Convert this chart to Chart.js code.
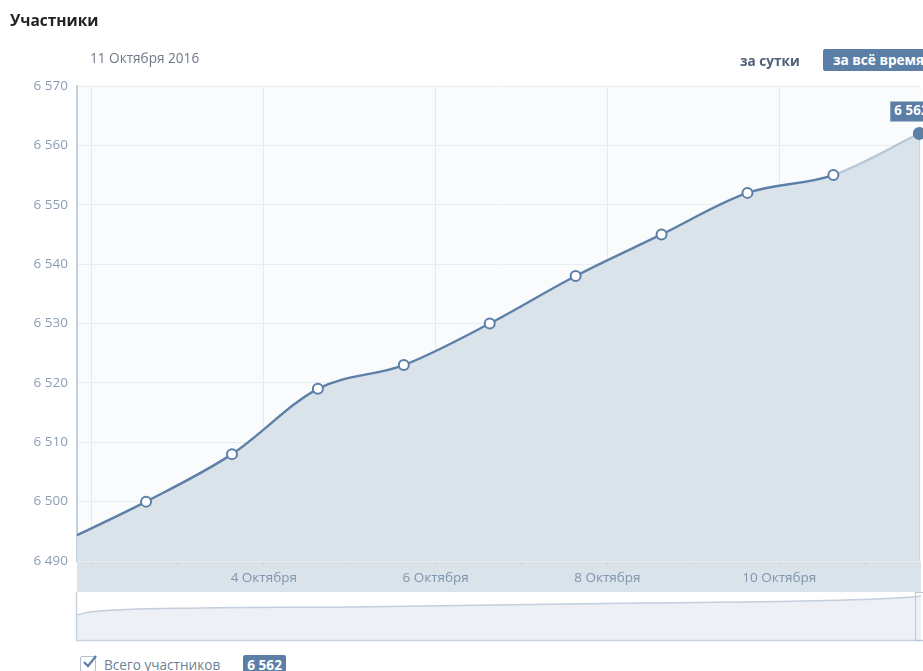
<!DOCTYPE html>
<html>
<head>
<meta charset="utf-8">
<script src="https://cdn.jsdelivr.net/npm/chart.js@4.4.0/dist/chart.umd.min.js"></script>
<style>
  body { margin: 0; background: #fff; font-family: "Open Sans", sans-serif; overflow: hidden; }
  #wrap { position: relative; width: 923px; height: 671px; overflow: hidden; }
  .abs { position: absolute; white-space: nowrap; }
  #title { left: 10px; top: 9px; font-size: 15.5px; font-weight: bold; color: #222; }
  #date { left: 90px; top: 48px; font-size: 13.6px; color: #6f7888; }
  #day { left: 740px; top: 51px; font-size: 13.6px; font-weight: bold; color: #4e6179; }
  #all { left: 823px; top: 49px; width: 120px; height: 22px; line-height: 22px; background: #5b7fa6;
         border-radius: 2px; color: #fff; font-size: 13.6px; font-weight: bold; padding-left: 10px; box-sizing: border-box; }
  #main { left: 0; top: 0; }
  #nav { left: 0; top: 592px; }
  #legend { left: 80px; top: 653px; font-size: 13.6px; color: #6e7f93; }
  #chk { display: inline-block; width: 14px; height: 14px; border: 1px solid #b4c0ce; border-radius: 2px;
         vertical-align: middle; position: relative; margin-right: 8px; }
  #chk svg { position: absolute; left: 1px; top: -3px; }
  #badge { display: inline-block; background: #5b7fa6; color: #fff; font-weight: bold; padding: 0 4px;
           height: 19px; line-height: 19px; margin-left: 23px; border-radius: 2px; vertical-align: middle; }
</style>
</head>
<body>
<div id="wrap">
  <canvas id="main" class="abs" width="923" height="592"></canvas>
  <canvas id="nav" class="abs" width="923" height="50"></canvas>
  <div id="title" class="abs">Участники</div>
  <div id="date" class="abs">11 Октября 2016</div>
  <div id="day" class="abs">за сутки</div>
  <div id="all" class="abs">за всё время</div>
  <div id="legend" class="abs"><span id="chk"><svg width="16" height="16" viewBox="0 0 16 16"><path d="M2 8 L6 12 L14 2" fill="none" stroke="#5b7fa6" stroke-width="2.2"/></svg></span><span style="vertical-align:middle">Всего участников</span><span id="badge">6 562</span></div>
</div>
<script>
// дни (1 = 1 октября), значения участников
const days = [1.63, 2.63, 3.63, 4.63, 5.63, 6.63, 7.63, 8.63, 9.63, 10.63, 11.63];
const members = [6493, 6500, 6508, 6519, 6523, 6530, 6538, 6545, 6552, 6555, 6562];
const yTicks = [6490, 6500, 6510, 6520, 6530, 6540, 6550, 6560, 6570];
const monthName = "Октября";

// вся история для навигатора (доля ширины, участники)
const navPos = [0, 0.015, 0.146, 0.325, 0.669, 0.858, 0.99, 1];
const navMembers = [6060, 6139, 6244, 6271, 6377, 6430, 6535, 6562];

const lineColor = "#5d80a8";
const fillColor = "#dae2ea";
const tickFont = { family: "Open Sans", size: 13.5 };

function fmt(v) {
  return String(v).replace(/\B(?=(\d{3})+(?!\d))/g, " ");
}

const last = members.length - 1;
const toPoints = () => days.map((d, i) => ({ x: d, y: members[i] }));

const bgPlugin = {
  id: "bg",
  beforeDraw(chart) {
    const a = chart.chartArea, c = chart.ctx;
    c.save();
    c.fillStyle = "#fafbfc";
    c.fillRect(a.left, a.top, a.right - a.left, a.bottom - a.top);
    c.fillStyle = fillColor;
    c.fillRect(a.left, a.bottom, a.right - a.left, chart.height - a.bottom);
    c.restore();
  },
  beforeDatasetDraw(chart, args) {
    if (args.index !== 1) return;
    // линия текущего момента
    const p = chart.getDatasetMeta(1).data[last];
    const c = chart.ctx;
    c.save();
    c.strokeStyle = "#c6d2df";
    c.lineWidth = 1;
    c.beginPath();
    c.moveTo(Math.round(p.x) + 0.5, p.y);
    c.lineTo(Math.round(p.x) + 0.5, chart.chartArea.bottom);
    c.stroke();
    c.restore();
  },
  afterDatasetsDraw(chart) {
    const p = chart.getDatasetMeta(1).data[last];
    const c = chart.ctx;
    c.save();
    c.fillStyle = "#5b7fa6";
    c.fillRect(p.x - 29, p.y - 32, 60, 20);
    c.fillStyle = "#fff";
    c.font = "bold 13.5px 'Open Sans'";
    c.textBaseline = "middle";
    c.fillText(fmt(members[last]), p.x - 25, p.y - 22);
    c.restore();
  }
};

new Chart(document.getElementById("main"), {
  type: "line",
  data: {
    datasets: [{
      // заливка
      data: toPoints(),
      order: 2,
      borderWidth: 0,
      borderColor: "rgba(0,0,0,0)",
      backgroundColor: fillColor,
      fill: "start",
      cubicInterpolationMode: "monotone",
      pointRadius: 0,
      clip: { left: 0, top: false, right: false, bottom: 0 }
    }, {
      // линия с точками
      data: toPoints(),
      order: 1,
      borderColor: lineColor,
      borderWidth: 2.4,
      fill: false,
      cubicInterpolationMode: "monotone",
      pointRadius: members.map((v, i) => i === 0 ? 0 : (i === last ? 5.5 : 5)),
      pointBackgroundColor: members.map((v, i) => i === last ? "#5b7fa6" : "#fff"),
      pointBorderColor: "#5b7fa6",
      pointBorderWidth: 2,
      clip: { left: 0, top: false, right: false, bottom: 0 },
      segment: {
        borderColor: ctx => ctx.p1DataIndex === last ? "#b7c7d8" : lineColor
      }
    }]
  },
  options: {
    responsive: false,
    animation: false,
    layout: { autoPadding: false, padding: { top: 86, right: 2, left: 0, bottom: 0 } },
    plugins: { legend: { display: false }, tooltip: { enabled: false } },
    scales: {
      x: {
        type: "linear",
        min: 1.826,
        max: 11.65,
        afterFit: s => { s.height = 31; },
        border: { display: false },
        grid: {
          color: ctx => (ctx.tick && ctx.tick.value % 2 === 0) ? "#e4e9ef" : "rgba(0,0,0,0)",
          tickColor: "#ccd6e1",
          tickLength: 4
        },
        ticks: {
          stepSize: 1,
          includeBounds: false,
          autoSkip: false,
          maxRotation: 0,
          padding: 5,
          color: "#7f95ae",
          font: tickFont,
          callback: v => (v % 2 === 0 && v >= 4) ? v + " " + monthName : ""
        }
      },
      y: {
        min: yTicks[0],
        max: yTicks[yTicks.length - 1],
        afterFit: s => { s.width = 77; },
        afterBuildTicks: s => { s.ticks = yTicks.map(v => ({ value: v })); },
        border: { display: true, color: "#c3cfdc", width: 2 },
        grid: { color: "#e9edf2", drawTicks: false },
        ticks: {
          padding: 9,
          color: "#8a9db5",
          font: tickFont,
          callback: v => fmt(v)
        }
      }
    }
  },
  plugins: [bgPlugin]
});

const navPlugin = {
  id: "navbg",
  beforeDraw(chart) {
    const a = chart.chartArea, c = chart.ctx;
    c.save();
    c.fillStyle = "#fff";
    c.fillRect(a.left, a.top, a.right - a.left, a.bottom - a.top);
    c.restore();
  },
  afterDraw(chart) {
    const a = chart.chartArea, c = chart.ctx;
    c.save();
    c.strokeStyle = "#c9d3de";
    c.lineWidth = 1.5;
    c.beginPath();
    c.moveTo(a.left - 0.5, 0);
    c.lineTo(a.left - 0.5, a.bottom + 0.5);
    c.lineTo(923, a.bottom + 0.5);
    c.stroke();
    c.strokeStyle = "#bac7d5";
    c.lineWidth = 1;
    c.strokeRect(915.5, 0.5, 12, a.bottom);
    c.restore();
  }
};

new Chart(document.getElementById("nav"), {
  type: "line",
  data: {
    datasets: [{
      data: navPos.map((p, i) => ({ x: p, y: navMembers[i] })),
      borderColor: "#c3cfdc",
      borderWidth: 1.5,
      backgroundColor: "#edf0f5",
      fill: "start",
      pointRadius: 0,
      cubicInterpolationMode: "monotone"
    }]
  },
  options: {
    responsive: false,
    animation: false,
    layout: { autoPadding: false, padding: { left: 77, right: 2, top: 1, bottom: 2 } },
    plugins: { legend: { display: false }, tooltip: { enabled: false } },
    scales: {
      x: { type: "linear", min: 0, max: 1, display: false },
      y: { min: 5400, max: 6640, display: false }
    }
  },
  plugins: [navPlugin]
});
</script>
</body>
</html>
